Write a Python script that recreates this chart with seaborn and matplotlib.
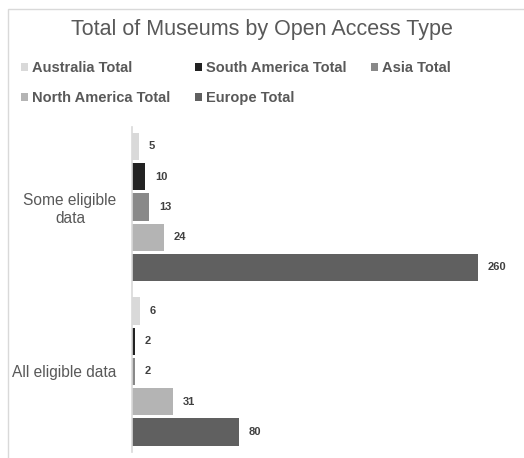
import matplotlib
matplotlib.use("Agg")
import matplotlib.pyplot as plt
import matplotlib.patches as mpatches
import seaborn as sns
import pandas as pd

categories = ["Some eligible data", "All eligible data"]
tick_labels = ["Some eligible\ndata", "All eligible data"]
series = ["Australia Total", "South America Total", "Asia Total",
          "North America Total", "Europe Total"]
australia = [5, 6]
south_america = [10, 2]
asia = [13, 2]
north_america = [24, 31]
europe = [260, 80]
colors = ["#d9d9d9", "#222222", "#898989", "#b4b4b4", "#606060"]

rows = []
for s, vals in zip(series, [australia, south_america, asia, north_america, europe]):
    for c, v in zip(categories, vals):
        rows.append({"category": c, "series": s, "value": v})
df = pd.DataFrame(rows)

sns.set_theme(style="white")
plt.rcParams["font.family"] = ["Liberation Sans", "DejaVu Sans"]

W, H = 524, 458
fig = plt.figure(figsize=(W / 100, H / 100), dpi=100)
ax = fig.add_axes([132 / W, 1 - 452 / H, (513 - 132) / W, (452 - 127) / H])

sns.barplot(data=df, y="category", x="value", hue="series", order=categories,
            hue_order=series, palette=colors, orient="h", width=0.92, gap=0.1,
            ax=ax, legend=False, saturation=1, edgecolor="none")

ax.set_xlim(0, 286)
ax.set_ylim(1.49, -0.486)
ax.set_xlabel("")
ax.set_ylabel("")
ax.set_xticks([])
ax.set_yticks([0, 1])
ax.set_yticklabels(tick_labels, fontsize=11.2, color="#595959",
                   multialignment="center")
ax.tick_params(axis="y", length=0, pad=11)
for side in ["top", "right", "bottom"]:
    ax.spines[side].set_visible(False)
ax.spines["left"].set_color("#d9d9d9")
ax.spines["left"].set_linewidth(1.2)

for cont in ax.containers:
    ax.bar_label(cont, padding=7, fontsize=8, fontweight="bold", color="#404040")

fig.text(0.5, 1 - 30 / H, "Total of Museums by Open Access Type",
         ha="center", va="center", fontsize=15.5, color="#595959")

handles = [mpatches.Patch(facecolor=c, edgecolor="none", label=s)
           for s, c in zip(series, colors)]
order = [0, 3, 1, 4, 2]
fig.legend([handles[i] for i in order], [series[i] for i in order],
           ncol=3, loc="upper left", bbox_to_anchor=(21 / W, 1 - 61 / H),
           frameon=False, handlelength=0.48, handleheight=0.48,
           handletextpad=0.27, columnspacing=1.7, labelspacing=1.1,
           prop={"size": 10.5, "weight": "bold"}, labelcolor="#595959",
           borderaxespad=0, borderpad=0)

fig.patches.append(mpatches.Rectangle((8 / W, -0.1), 2, 1 - 9 / H + 0.1,
                                      transform=fig.transFigure, fill=False,
                                      edgecolor="#d9d9d9", linewidth=1))

fig.savefig("out.png", dpi=100, facecolor="white")
